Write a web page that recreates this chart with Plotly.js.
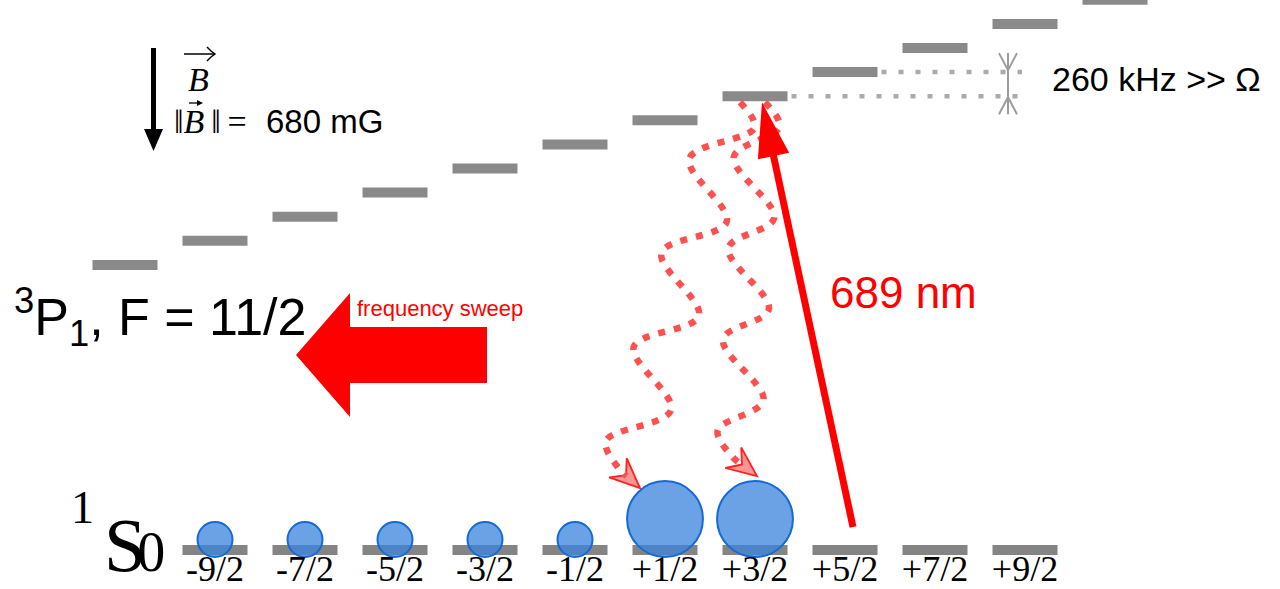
<!DOCTYPE html>
<html>
<head>
<meta charset="utf-8">
<script src="https://cdn.plot.ly/plotly-3.0.1.min.js"></script>
<style>
  html, body { margin: 0; padding: 0; background: #fff; }
  #chart { width: 1280px; height: 589px; }
</style>
</head>
<body>
<div id="chart"></div>
<script>
// Zeeman sublevels: 1S0 ground state (F = 9/2) and 3P1 excited state (F = 11/2)
const groundM = [-4.5, -3.5, -2.5, -1.5, -0.5, 0.5, 1.5, 2.5, 3.5, 4.5];
const groundLabels = ['-9/2', '-7/2', '-5/2', '-3/2', '-1/2', '+1/2', '+3/2', '+5/2', '+7/2', '+9/2'];
const groundEnergy = [0, 0, 0, 0, 0, 0, 0, 0, 0, 0];
// relative atom number in each ground sublevel (0 = empty)
const groundPopulation = [1, 1, 1, 1, 1, 4.7, 4.7, 0, 0, 0];

const excitedM = [-5.5, -4.5, -3.5, -2.5, -1.5, -0.5, 0.5, 1.5, 2.5, 3.5, 4.5, 5.5];
// excited-state energies, in units of the 260 kHz sublevel splitting
const excitedEnergy = [11.83, 12.83, 13.83, 14.83, 15.83, 16.83, 17.83, 18.83, 19.83, 20.83, 21.83, 22.83];

// 689 nm drive and the spontaneous decay channels
const pumpFrom = 2.5;   // ground m
const pumpTo = 1.5;     // excited m
const decayFrom = 1.5;  // excited m
const decayTo = [0.5, 1.5];

// ---- figure geometry ----
const W = 1280, H = 589;
const PX_PER_M = 90, PX_PER_E = 24.1;
const X_RANGE = [-6.8889, -6.8889 + W / PX_PER_M];
const Y_RANGE = [22.8216 - H / PX_PER_E, 22.8216];

const xPx = m => (m - X_RANGE[0]) * PX_PER_M;
const yPx = e => (Y_RANGE[1] - e) * PX_PER_E;
const xD = px => X_RANGE[0] + px / PX_PER_M;
const yD = py => Y_RANGE[1] - py / PX_PER_E;
const xP = px => px / W;
const yP = py => 1 - py / H;

const BAR_HALF_W = 32.5 / PX_PER_M;
const BAR_HALF_H = 5 / PX_PER_E;

const RED = '#ff0000';
const SANS = 'Liberation Sans, Arial, sans-serif';
const SERIF = 'Liberation Serif, DejaVu Serif, Times New Roman, serif';

const shapes = [];

function rectShape(m, e, color) {
  return { type: 'rect', xref: 'x', yref: 'y', layer: 'below',
    x0: m - BAR_HALF_W, x1: m + BAR_HALF_W, y0: e - BAR_HALF_H, y1: e + BAR_HALF_H,
    fillcolor: color, line: { width: 0 } };
}
function pathShape(pts, o) {
  const d = pts.map((p, i) => (i ? 'L' : 'M') + xD(p[0]).toFixed(5) + ',' + yD(p[1]).toFixed(5)).join(' ') + (o.close ? ' Z' : '');
  return { type: 'path', xref: 'x', yref: 'y', path: d, layer: o.layer || 'above',
    fillcolor: o.fill || 'rgba(0,0,0,0)',
    line: { color: o.stroke || 'rgba(0,0,0,0)', width: o.width || 0 } };
}
function lineShape(p0, p1, o) {
  return { type: 'line', xref: 'x', yref: 'y', layer: o.layer || 'above',
    x0: xD(p0[0]), y0: yD(p0[1]), x1: xD(p1[0]), y1: yD(p1[1]),
    line: { color: o.color, width: o.width, dash: o.dash || 'solid' } };
}
const norm = v => { const l = Math.hypot(v[0], v[1]); return [v[0] / l, v[1] / l]; };

// level bars
groundM.forEach((m, i) => shapes.push(rectShape(m, groundEnergy[i], '#848484')));
excitedM.forEach((m, i) => shapes.push(rectShape(m, excitedEnergy[i], '#8a8a8a')));

// splitting marker between excited m = +3/2 and +5/2
const eLow = excitedEnergy[excitedM.indexOf(1.5)];
const eHigh = excitedEnergy[excitedM.indexOf(2.5)];
const MARK_X = 1008;
[[1.5, eLow], [2.5, eHigh]].forEach(([m, e]) => {
  shapes.push(lineShape([xPx(m) + 32.5 + 4, yPx(e)], [1022, yPx(e)],
    { color: '#ababab', width: 4.5, dash: '5px,12px', layer: 'below' }));
});
const topTip = yPx(eHigh) - 2, botTip = yPx(eLow) + 1;
shapes.push(lineShape([MARK_X, topTip - 17], [MARK_X, botTip + 17], { color: '#9c9c9c', width: 2 }));
shapes.push(pathShape([[MARK_X - 9, topTip - 17], [MARK_X, topTip], [MARK_X + 9, topTip - 17]], { stroke: '#9c9c9c', width: 2 }));
shapes.push(pathShape([[MARK_X - 9, botTip + 17], [MARK_X, botTip], [MARK_X + 9, botTip + 17]], { stroke: '#9c9c9c', width: 2 }));

// population circles
const circleDiam = groundPopulation.map(p => p > 0 ? 35 * Math.sqrt(p) : 0);
const circleE = circleDiam.map((d, i) => groundEnergy[i] + (d / 2 - 7) / PX_PER_E);
const popIdx = groundPopulation.map((p, i) => p > 0 ? i : -1).filter(i => i >= 0);
const popX = popIdx.map(i => groundM[i]);
const popY = popIdx.map(i => circleE[i]);
const popSize = popIdx.map(i => circleDiam[i]);

const traces = [
  { // translucent fill
    type: 'scatter', mode: 'markers', hoverinfo: 'skip', cliponaxis: false,
    x: popX, y: popY,
    marker: { size: popSize, color: 'rgb(60,133,221)', opacity: 0.76, line: { width: 0 } }
  },
  { // solid outline
    type: 'scatter', mode: 'markers', hoverinfo: 'skip', cliponaxis: false,
    x: popX, y: popY,
    marker: { size: popSize, color: 'rgba(0,0,0,0)', opacity: 1, line: { color: '#176ad4', width: 2 } }
  }
];

// spontaneous emission paths (wavy dotted) with arrowheads
const decayStyle = [
  { startDx: -15, tipDx: -25, tipDy: -31, amp: 28 },
  { startDx: 10, tipDx: 2, tipDy: -43, amp: 22 }
];
const eUp = excitedEnergy[excitedM.indexOf(decayFrom)];
decayTo.forEach((mg, i) => {
  const st = decayStyle[i];
  const gi = groundM.indexOf(mg);
  const S = [xPx(decayFrom) + st.startDx, yPx(eUp) + 6];
  const T = [xPx(mg) + st.tipDx, yPx(circleE[gi]) + st.tipDy];
  const D = T[1] - S[1];
  const x0 = S[0] - 6, x1 = T[0] - 20;
  const ax = t => x0 + (x1 - x0) * t;
  const pts = [S];
  for (let k = 0; k < 4; k++) {
    const tR = (0.27 + k) / 4.1, tL = (0.6 + k) / 4.1;
    pts.push([ax(tR) + st.amp, S[1] + D * tR]);
    pts.push([ax(tL) - st.amp, S[1] + D * tL]);
  }
  const L3 = pts[pts.length - 1];
  const C = [L3[0] + 0.4 * (T[0] - L3[0]), L3[1] + 0.6 * (T[1] - L3[1])];
  const u = norm([T[0] - C[0], T[1] - C[1]]);
  const E = [T[0] - 18 * u[0], T[1] - 18 * u[1]];
  pts.push(C, E);
  traces.push({
    type: 'scatter', mode: 'lines', hoverinfo: 'skip',
    x: pts.map(p => xD(p[0])), y: pts.map(p => yD(p[1])),
    line: { color: '#ff5050', width: 6.5, dash: '7px,9px', shape: 'spline', smoothing: 1 }
  });
  const n = [-u[1], u[0]];
  const back = [T[0] - 30 * u[0], T[1] - 30 * u[1]];
  const notch = [T[0] - 19 * u[0], T[1] - 19 * u[1]];
  shapes.push(pathShape([T, [back[0] + 13 * n[0], back[1] + 13 * n[1]], notch,
    [back[0] - 13 * n[0], back[1] - 13 * n[1]]],
    { close: true, fill: 'rgba(255,80,80,0.6)', stroke: '#ff2020', width: 1.8, layer: 'below' }));
});

// 689 nm pump arrow
const eTo = excitedEnergy[excitedM.indexOf(pumpTo)];
const pTip = [xPx(pumpTo) + 7, yPx(eTo) + 6];
const pStart = [xPx(pumpFrom) + 8, yPx(groundEnergy[groundM.indexOf(pumpFrom)]) - 23];
const pu = norm([pTip[0] - pStart[0], pTip[1] - pStart[1]]);
const pn = [-pu[1], pu[0]];
const pBase = [pTip[0] - 55 * pu[0], pTip[1] - 55 * pu[1]];
shapes.push(lineShape(pStart, [pTip[0] - 50 * pu[0], pTip[1] - 50 * pu[1]], { color: RED, width: 7 }));
shapes.push(pathShape([pTip, [pBase[0] + 16 * pn[0], pBase[1] + 16 * pn[1]],
  [pBase[0] - 16 * pn[0], pBase[1] - 16 * pn[1]]], { close: true, fill: RED }));

// frequency-sweep arrow
shapes.push(pathShape([[296, 355], [350, 293], [350, 327], [487, 327], [487, 383], [350, 383], [350, 417]],
  { close: true, fill: RED }));

// magnetic field direction arrow
shapes.push(lineShape([153.5, 48], [153.5, 132], { color: '#000', width: 5 }));
shapes.push(pathShape([[144, 129], [163, 129], [153.5, 151]], { close: true, fill: '#000' }));
// vector arrows over B
shapes.push(lineShape([184, 54], [214, 54], { color: '#000', width: 1.5 }));
shapes.push(pathShape([[207, 47], [211, 51], [215, 54], [211, 57], [207, 61]], { stroke: '#000', width: 1.5 }));
shapes.push(lineShape([189, 103], [199, 103], { color: '#000', width: 1.3 }));
shapes.push(pathShape([[197, 100], [203, 103], [197, 106]], { close: true, fill: '#000' }));

const ann = (text, x, y, size, o = {}) => Object.assign({
  text, x: xP(x), y: yP(y), xref: 'paper', yref: 'paper', showarrow: false,
  xanchor: 'left', yanchor: 'middle',
  font: { family: SANS, size, color: '#000' }
}, o);

const annotations = [
  ann('<sup>3</sup>P<sub>1</sub>, F = 11/2', 12, 317, 52),
  ann('frequency sweep', 355, 308, 22, { font: { family: SANS, size: 22, color: RED } }),
  ann('689 nm', 828, 292, 44, { font: { family: SANS, size: 44, color: RED } }),
  ann('680 mG', 264, 122, 33),
  ann('260 kHz >> \u03A9', 1050, 79, 34),
  ann('<i>B</i>', 198, 80, 34, { xanchor: 'center', font: { family: SERIF, size: 34, color: '#000' } }),
  ann('\u2016<i>B</i>\u2009\u2016\u2009=', 172, 122, 34, { font: { family: SERIF, size: 34, color: '#000' } }),
  ann('1', 82, 507, 46, { xanchor: 'center', font: { family: SERIF, size: 46, color: '#000' } }),
  ann('<span style="letter-spacing:-9px">S</span><span style="font-size:56px">0</span>', 102, 545, 76,
      { font: { family: SERIF, size: 76, color: '#000' } })
];

const layout = {
  width: W, height: H,
  margin: { l: 0, r: 0, t: 0, b: 0, pad: 0 },
  paper_bgcolor: '#fff', plot_bgcolor: '#fff',
  showlegend: false,
  xaxis: {
    range: X_RANGE, anchor: 'free', position: 1 - 543.5 / H,
    tickvals: groundM, ticktext: groundLabels, ticks: '',
    tickfont: { family: SERIF, size: 36, color: '#000' },
    showgrid: false, zeroline: false, showline: false, fixedrange: true
  },
  yaxis: { range: Y_RANGE, visible: false, showgrid: false, zeroline: false, fixedrange: true },
  shapes, annotations
};

Plotly.newPlot('chart', traces, layout, { staticPlot: true, displayModeBar: false });
</script>
</body>
</html>
